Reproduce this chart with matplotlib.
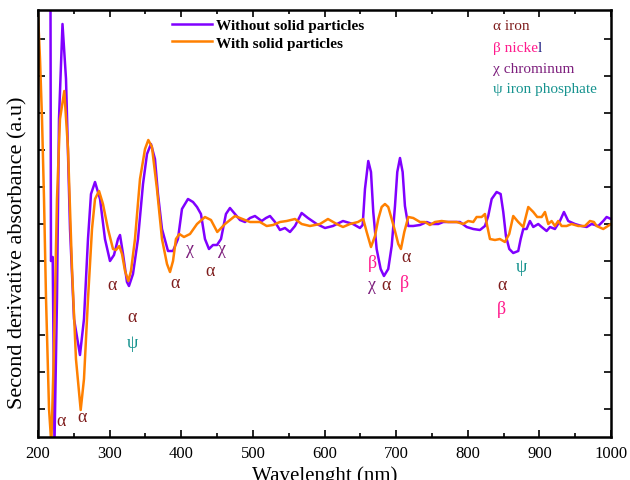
import numpy as np
import matplotlib
matplotlib.use('Agg')
import matplotlib.pyplot as plt

plt.rcParams['font.family'] = ['Liberation Serif', 'DejaVu Serif']

# DATA
wl_without = [217.2, 218.1, 220.5, 223.0, 226.5, 229.3, 234.2, 239.1, 244.7, 250.3, 258.6, 264.2, 269.8,
              274.0, 279.6, 286.6, 293.5, 300.5, 306.1, 311.7, 314.5, 318.7, 324.2, 327.0, 332.6, 339.6,
              346.6, 352.2, 357.7, 363.3, 367.5, 373.1, 381.5, 388.5, 395.4, 401.0, 409.4, 416.4, 422.0,
              427.5, 433.1, 438.7, 444.3, 449.9, 455.5, 462.4, 468.0, 475.0, 482.0, 489.0, 496.0, 502.9,
              512.3, 518.3, 523.9, 530.9, 537.8, 544.8, 551.8, 558.8, 568.1, 576.9, 589.1, 600.7, 611.8,
              625.8, 639.7, 649.5, 653.3, 656.5, 661.1, 664.9, 668.1, 672.8, 678.4, 683.0, 689.0, 693.8,
              698.4, 701.6, 705.4, 709.1, 712.3, 717.0, 723.9, 733.3, 742.6, 749.6, 758.8, 765.8, 775.2,
              789.1, 798.5, 807.7, 817.0, 824.0, 828.6, 833.4, 840.3, 845.9, 849.6, 853.3, 858.0, 863.5,
              870.5, 873.9, 877.5, 882.2, 886.8, 891.5, 898.4, 903.2, 910.1, 914.8, 921.7, 928.7, 934.3,
              940.3, 949.7, 959.0, 966.0, 973.0, 982.2, 989.2, 993.9, 1000.0]
abs_without = [3.25, -0.37, -0.33, -2.20, -0.75, 1.05, 2.00, 1.45, -0.05, -0.95, -1.31, -0.95, -0.15,
               0.30, 0.42, 0.25, -0.15, -0.37, -0.31, -0.15, -0.11, -0.30, -0.58, -0.62, -0.50, -0.15,
               0.40, 0.70, 0.80, 0.65, 0.30, -0.05, -0.27, -0.27, -0.15, 0.15, 0.25, 0.22, 0.17,
               0.10, -0.15, -0.25, -0.21, -0.21, -0.15, 0.10, 0.16, 0.10, 0.04, 0.02, 0.06, 0.08,
               0.03, 0.06, 0.08, 0.02, -0.06, -0.04, -0.08, -0.02, 0.11, 0.06, 0.00, -0.04, -0.02,
               0.03, 0.00, -0.04, -0.01, 0.35, 0.63, 0.52, 0.12, -0.25, -0.45, -0.52, -0.45, -0.22,
               0.18, 0.52, 0.66, 0.52, 0.18, -0.02, -0.02, -0.01, 0.02, 0.00, 0.00, 0.02, 0.02,
               0.02, -0.03, -0.05, -0.06, -0.02, 0.08, 0.25, 0.32, 0.30, 0.12, -0.12, -0.25, -0.29,
               -0.27, -0.15, -0.05, -0.05, 0.03, -0.03, 0.00, -0.03, -0.07, -0.03, -0.05, 0.03, 0.12,
               0.03, 0.00, -0.02, -0.03, 0.00, -0.02, 0.03, 0.07, 0.05]

wl_with = [200.0, 202.8, 205.6, 208.4, 211.2, 215.4, 218.6, 222.3, 226.5, 230.7, 236.7, 241.9, 247.5,
           253.0, 259.6, 264.2, 269.8, 275.4, 279.6, 285.2, 290.7, 297.7, 304.7, 308.9, 313.5, 317.3,
           321.5, 326.1, 329.8, 335.4, 342.4, 349.4, 354.0, 359.1, 366.1, 373.1, 380.1, 384.3, 388.5,
           392.6, 397.3, 403.8, 412.2, 422.0, 433.1, 441.5, 450.3, 461.1, 475.0, 482.0, 489.0, 496.0,
           509.9, 519.3, 528.1, 537.8, 547.2, 558.8, 568.1, 579.7, 593.7, 604.8, 617.0, 625.8, 635.6,
           646.7, 654.1, 658.9, 664.9, 670.5, 675.1, 679.8, 684.4, 689.0, 693.8, 698.4, 703.0, 706.7,
           711.4, 717.0, 723.9, 733.3, 740.3, 747.2, 754.2, 763.6, 772.8, 784.5, 793.7, 800.7, 807.7,
           812.4, 819.4, 824.0, 827.2, 831.0, 838.0, 844.9, 851.9, 857.9, 863.5, 870.5, 877.5, 884.5,
           891.5, 897.0, 903.2, 907.8, 912.4, 917.1, 921.7, 926.3, 931.1, 938.0, 945.0, 954.3, 963.6,
           970.6, 976.2, 979.9, 989.2, 1000.0]
abs_with = [2.10, 1.65, 1.05, 0.25, -0.75, -1.85, -2.20, -1.25, 0.25, 1.05, 1.33, 0.75, -0.45,
            -1.35, -1.86, -1.55, -0.75, -0.05, 0.25, 0.33, 0.20, -0.05, -0.25, -0.26, -0.22, -0.30,
            -0.47, -0.57, -0.47, -0.15, 0.45, 0.75, 0.84, 0.77, 0.35, -0.15, -0.40, -0.48, -0.37,
            -0.15, -0.10, -0.13, -0.10, 0.00, 0.07, 0.04, -0.08, 0.00, 0.08, 0.06, 0.04, 0.02,
            0.02, -0.02, -0.01, 0.02, 0.03, 0.05, 0.00, -0.02, 0.00, 0.05, 0.00, -0.03, 0.00,
            0.02, 0.05, -0.08, -0.23, -0.12, 0.05, 0.17, 0.20, 0.17, 0.05, -0.07, -0.20, -0.25,
            -0.08, 0.07, 0.06, 0.02, 0.02, -0.01, 0.02, 0.03, 0.02, 0.02, 0.00, 0.03, 0.02,
            0.07, 0.07, 0.10, -0.02, -0.15, -0.16, -0.15, -0.18, -0.10, 0.08, 0.02, -0.03, 0.17,
            0.12, 0.07, 0.07, 0.12, 0.00, 0.03, -0.02, 0.03, -0.02, -0.02, 0.00, -0.02, -0.02,
            0.03, 0.02, -0.02, -0.05, 0.00]

# peak assignments: symbol, wavelength, level
peak_sym = ['α', 'α', 'α', 'α', 'ψ', 'α', 'χ', 'χ', 'α', 'β', 'χ', 'α', 'β', 'α', 'α', 'β', 'ψ']
peak_wl = [232.1, 261.4, 303.3, 331.2, 331.2, 391.3, 412.2, 456.9, 440.1, 666.3, 666.3, 685.8,
           712.3, 713.7, 847.7, 847.7, 874.3]
peak_y = [-1.97, -1.92, -0.60, -0.93, -1.18, -0.59, -0.24, -0.25, -0.47, -0.38, -0.60, -0.60,
          -0.58, -0.33, -0.60, -0.84, -0.42]

key_labels = ['α iron', 'β nicke', 'χ chrominum', 'ψ iron phosphate']

sym_color = {'α': '#7f1d1d', 'β': '#ff1a8c', 'χ': '#7d1f7d', 'ψ': '#16938f'}

# PLOTTING
fig = plt.figure(figsize=(6.3, 4.81), dpi=100)
ax = fig.add_axes([38/630, 1-438/481, 573/630, 427/481])

ax.plot(wl_without, abs_without, color='#8000ff', lw=1.8, label='Without solid particles',
        solid_joinstyle='round')
ax.plot(wl_with, abs_with, color='#ff8000', lw=1.8, label='With solid particles',
        solid_joinstyle='round')

ax.set_xlim(200, 1000)
ax.set_ylim(-2.13, 2.14)
ax.set_xticks(np.arange(200, 1001, 100))
ax.set_xticks(np.arange(250, 1000, 100), minor=True)
ax.set_yticks(np.arange(-1.85, 2.1, 0.37))
ax.set_yticklabels([])
ax.tick_params(axis='both', which='both', direction='in', top=True, right=True, width=1.2)
ax.tick_params(axis='both', which='major', length=5, labelsize=12, pad=6)
ax.tick_params(axis='both', which='minor', length=3)
for s in ax.spines.values():
    s.set_linewidth(1.8)

ax.set_xlabel('Wavelenght (nm)', fontsize=15)
ax.xaxis.set_label_coords(0.5, -0.067)
ax.set_ylabel('Second derivative absorbance (a.u)', fontsize=16)
ax.yaxis.set_label_coords(-0.018, 0.433)

for s, x, y in zip(peak_sym, peak_wl, peak_y):
    ax.text(x, y, s, color=sym_color[s], fontsize=13, ha='center', va='center')

leg = ax.legend(loc='upper left', bbox_to_anchor=(0.21, 1.012), frameon=False,
                prop={'weight': 'bold', 'size': 11}, handlelength=2.6, handletextpad=0.3,
                labelspacing=0.25)

# key of the symbols (top right)
key_y = [27, 49, 70, 90]
for lab, yp in zip(key_labels, key_y):
    c = sym_color[lab[0]]
    t = fig.text(493/630, 1 - yp/481, lab, color=c, fontsize=11, va='center', ha='left')
    if lab.startswith('β'):
        fig.canvas.draw()
        bb = t.get_window_extent()
        fig.text(bb.x1/630, 1 - yp/481, 'l', color='#1a1a80', fontsize=11, va='center', ha='left')

plt.savefig('out.png', dpi=100)
